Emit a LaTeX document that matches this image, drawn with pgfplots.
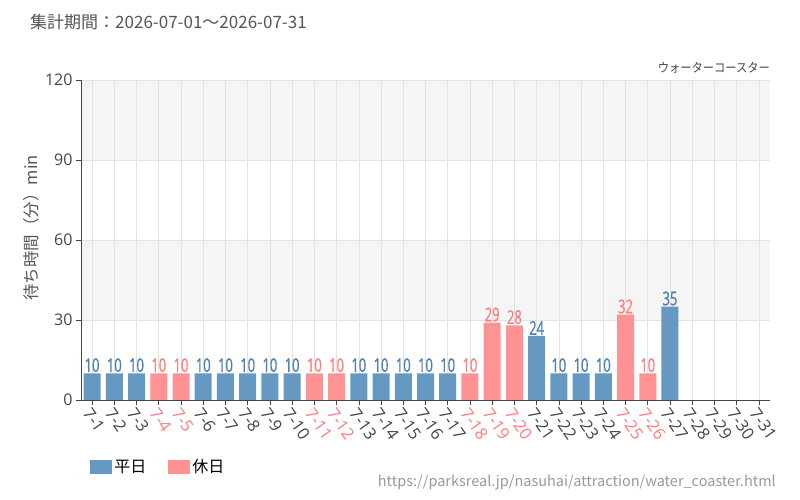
\documentclass[border=0pt]{standalone}
\usepackage{pgfplots}
\pgfplotsset{compat=1.18}
\usepackage{fontspec}
\setmainfont{Open Sans}
\newfontfamily\jp{Noto Sans CJK JP}
\newfontfamily\jpn[FakeStretch=0.9]{Noto Sans CJK JP}
\newfontfamily\cond[FakeStretch=0.68,FakeBold=0.8]{Open Sans}
\definecolor{wk}{HTML}{6699C2}
\definecolor{hol}{HTML}{FF9393}
\definecolor{wkt}{HTML}{4A7FB0}
\definecolor{holt}{HTML}{FF7C7C}
\definecolor{bandgray}{HTML}{F5F5F5}
\definecolor{gridc}{HTML}{E3E3E3}
\definecolor{axc}{HTML}{444444}
\definecolor{titc}{HTML}{555555}
\definecolor{urlc}{HTML}{999999}

\begin{document}
\begin{tikzpicture}
\path (0pt,0pt) rectangle (800pt,500pt);
\begin{axis}[
  set layers,
  at={(81pt,100pt)}, anchor=south west, scale only axis,
  width=689pt, height=320pt,
  xmin=-0.5, xmax=30.5, ymin=0, ymax=120,
  axis lines*=left,
  axis line style={axc, line width=0.8pt},
  ytick={0,30,60,90,120},
  xtick={0,...,30},
  xticklabels={7-1,7-2,7-3,\textcolor{holt}{7-4},\textcolor{holt}{7-5},7-6,7-7,7-8,7-9,7-10,
    \textcolor{holt}{7-11},\textcolor{holt}{7-12},7-13,7-14,7-15,7-16,7-17,\textcolor{holt}{7-18},
    \textcolor{holt}{7-19},\textcolor{holt}{7-20},7-21,7-22,7-23,7-24,\textcolor{holt}{7-25},
    \textcolor{holt}{7-26},7-27,7-28,7-29,7-30,7-31},
  tick style={axc, line width=0.6pt},
  tick align=outside, major tick length=5pt,
  xmajorgrids, ymajorgrids,
  grid style={gridc, line width=0.6pt},
  /pgf/number format/assume math mode=true,
  yticklabel style={font=\fontsize{16}{16}\selectfont, text=axc},
  xticklabel style={rotate=-55, anchor=north west, font=\fontsize{16.5}{16.5}\selectfont, text=axc, inner sep=1pt},
  legend style={font=\jp\fontsize{16}{16}\selectfont, draw=none, fill=none,
    at={(axis description cs:0.009,-0.209)}, anchor=west, legend columns=2,
    /tikz/every even column/.append style={column sep=20pt}},
]
\addplot[fill=bandgray, draw=none, on layer=axis background, forget plot]
  coordinates {(-0.5,30)(30.5,30)(30.5,60)(-0.5,60)(-0.5,30)};
\addplot[fill=bandgray, draw=none, on layer=axis background, forget plot]
  coordinates {(-0.5,90)(30.5,90)(30.5,120)(-0.5,120)(-0.5,90)};
\addplot[ybar, bar width=17pt, bar shift=0pt, fill=wk, draw=none,
  nodes near coords,
  every node near coord/.append style={font=\cond\fontsize{19}{19}\selectfont, anchor=south, inner sep=1pt, text=wkt},
  legend image code/.code={\fill[wk] (0pt,-7pt) rectangle (22pt,7pt);}]
  coordinates {(0,10)(1,10)(2,10)(5,10)(6,10)(7,10)(8,10)(9,10)(12,10)(13,10)(14,10)(15,10)(16,10)(20,24)(21,10)(22,10)(23,10)(26,35)};
\addlegendentry{平日}
\addplot[ybar, bar width=17pt, bar shift=0pt, fill=hol, draw=none,
  nodes near coords,
  every node near coord/.append style={font=\cond\fontsize{19}{19}\selectfont, anchor=south, inner sep=1pt, text=holt},
  legend image code/.code={\fill[hol] (0pt,-7pt) rectangle (22pt,7pt);}]
  coordinates {(3,10)(4,10)(10,10)(11,10)(17,10)(18,29)(19,28)(24,32)(25,10)};
\addlegendentry{休日}
\end{axis}
\node[anchor=west, font=\jp\fontsize{17}{17}\selectfont, text=titc, inner sep=0pt] at (30pt,478pt) {集計期間：2026-07-01～2026-07-31};
\node[anchor=east, font=\jpn\fontsize{12.5}{13}\selectfont, text=axc, inner sep=0pt] at (770pt,432pt) {ウォーターコースター};
\node[rotate=90, font=\jp\fontsize{16.5}{16.5}\selectfont, text=titc, inner sep=0pt] at (31pt,272pt) {待ち時間（分）min};
\node[anchor=east, font=\jp\fontsize{14.5}{14.5}\selectfont, text=urlc, inner sep=0pt] at (776pt,18pt) {https://parksreal.jp/nasuhai/attraction/water\_coaster.html};
\end{tikzpicture}
\end{document}
